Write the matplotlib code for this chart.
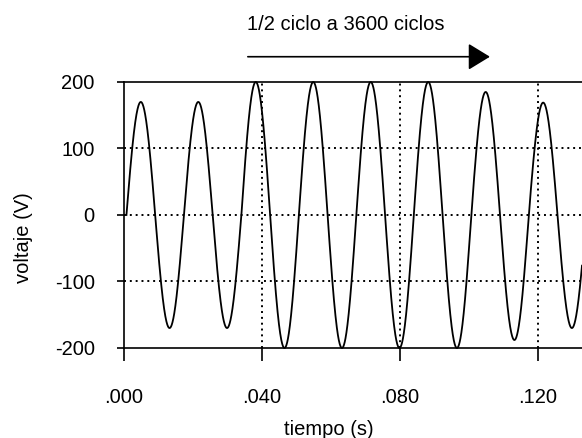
import matplotlib
matplotlib.use("Agg")
import matplotlib.pyplot as plt
import numpy as np

# peak magnitude of each half cycle, 60 Hz wave
half_cycle_peaks = [170, 170, 170, 170, 200, 200, 200, 200,
                    200, 200, 200, 200, 185, 188, 169, 170, 170]
freq_hz = 60
t_start = 0.0007   # first zero crossing
x_ticks = [0.0, 0.04, 0.08, 0.12]
x_tick_labels = [".000", ".040", ".080", ".120"]
y_ticks = [-200, -100, 0, 100, 200]
y_tick_labels = ["-200", "-100", "0", "100", "200"]
t_max = 0.1328

plt.rcParams["font.family"] = ["Liberation Sans", "DejaVu Sans"]
fs = 14.5

fig = plt.figure(figsize=(5.82, 4.38), dpi=100)
ax = fig.add_axes([0.2131, 0.2055, 0.7869, 0.6073])

# wave: amplitude held per half cycle
t = np.linspace(t_start, t_max, 3000)
k = np.minimum(((t - t_start) * 2 * freq_hz).astype(int), len(half_cycle_peaks) - 1)
amp = np.array(half_cycle_peaks)[k]
v = amp * np.sin(2 * np.pi * freq_hz * (t - t_start))
ax.plot(t, v, color="black", linewidth=1.3, clip_on=False, zorder=3)

ax.set_xlim(0, t_max)
ax.set_ylim(-200, 200)

# dotted grid
dot = (0, (1, 2))
for y in [-100, 0, 100]:
    ax.axhline(y, color="black", linewidth=1.4, linestyle=dot, zorder=1)
for x in [0.04, 0.08, 0.12]:
    ax.axvline(x, color="black", linewidth=1.4, linestyle=dot, zorder=1)

ax.spines["right"].set_visible(False)
for s in ["top", "left", "bottom"]:
    ax.spines[s].set_linewidth(1.2)

ax.set_xticks(x_ticks)
ax.set_xticklabels(x_tick_labels)
ax.set_yticks(y_ticks)
ax.set_yticklabels(y_tick_labels)
ax.tick_params(axis="x", direction="out", length=9, width=1.2, pad=20, labelsize=fs)
ax.tick_params(axis="y", direction="out", length=5, width=1.2, pad=16, labelsize=fs)

ax.set_xlabel("tiempo (s)", fontsize=fs)
ax.xaxis.set_label_coords(0.448, -0.272)
ax.set_ylabel("voltaje (V)", fontsize=fs)
ax.yaxis.set_label_coords(-0.199, 0.414)

# arrow and note above the plot
ax.annotate("", xy=(0.1061, 238), xytext=(0.0359, 238), xycoords="data",
            annotation_clip=False,
            arrowprops=dict(arrowstyle="-|>,head_length=0.9,head_width=0.55",
                            mutation_scale=15, color="black", lw=1.2,
                            shrinkA=0, shrinkB=0))
ax.text(0.0643, 287, "1/2 ciclo a 3600 ciclos", ha="center", va="center",
        fontsize=fs, clip_on=False)

fig.savefig("out.png", dpi=100)
